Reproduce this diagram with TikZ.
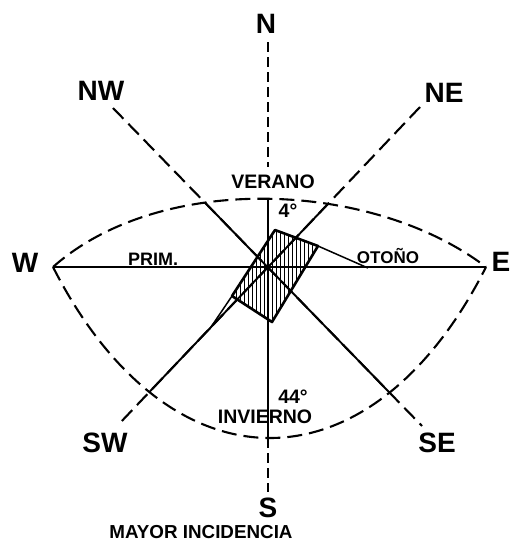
\documentclass[tikz,border=0pt]{standalone}
\usepackage{fontspec}
\setmainfont{Liberation Sans}

\begin{document}
\begin{tikzpicture}[x=1pt, y=-1pt, line width=1.9pt,
    rumbo/.style={font=\bfseries\fontsize{28}{30}\selectfont, inner sep=0pt, anchor=base},
    rotulo/.style={font=\bfseries\fontsize{19.5}{22}\selectfont, inner sep=0pt, anchor=base},
    trazo/.style={dash pattern=on 15pt off 7pt, line width=2.1pt},
    trazocorto/.style={dash pattern=on 10pt off 5pt, line width=2.1pt}]
  \useasboundingbox (0,0) rectangle (516,541);
  % ejes
  \coordinate (ctr) at (268,267);
  \coordinate (w) at (53,267);
  \coordinate (e) at (486,267);
  \coordinate (n) at (268,42);
  \coordinate (vtop) at (268,167);
  \coordinate (bot) at (268,438);
  \coordinate (s) at (268,492);
  \coordinate (nw) at (113,108);
  \coordinate (se) at (422,426);
  \coordinate (ne) at (420,107);
  \coordinate (sw) at (119,424);
  % rumbos
  \node[rumbo] (N) at (266,33) {N};
  \node[rumbo] (NW) at (101,100) {NW};
  \node[rumbo] (NE) at (444,102) {NE};
  \node[rumbo] (W) at (25,272) {W};
  \node[rumbo] (E) at (501,271) {E};
  \node[rumbo] (SW) at (105,452) {SW};
  \node[rumbo] (SE) at (437,452) {SE};
  \node[rumbo] (S) at (268,517) {S};
  % estaciones
  \node[rotulo] (verano) at (273,188) {VERANO};
  \node[rotulo] (g4) at (288,217) {4°};
  \node[rotulo, font=\bfseries\fontsize{18}{20}\selectfont] (prim) at (153,265) {PRIM.};
  \node[rotulo, font=\bfseries\fontsize{17}{19}\selectfont] (otono) at (388,263) {OTOÑO};
  \node[rotulo] (g44) at (293,403) {44°};
  \node[rotulo] (invierno) at (265,423) {INVIERNO};
  \node[rotulo, font=\bfseries\fontsize{18.8}{21}\selectfont] (mayor) at (201,538) {MAYOR INCIDENCIA};
  % contorno
  \draw[trazo] (w) .. controls (160,172) and (372,180) .. (e);
  \draw[trazo] (w) .. controls (169,495) and (371,495) .. (e);
  % lineas
  \draw (w) -- (e);
  \draw[trazocorto] (n) -- (vtop);
  \draw[trazocorto] (bot) -- (s);
  \draw[trazo] (nw) -- (se);
  \draw[trazo] (ne) -- (sw);
  \begin{scope}
    \clip (w) .. controls (160,172) and (372,180) .. (e)
      .. controls (371,495) and (169,495) .. (w) -- cycle;
    \draw (nw) -- (se);
    \draw (ne) -- (sw);
    \draw (n) -- (s);
  \end{scope}
  % superficie rayada
  \coordinate (vt) at (275,230);
  \coordinate (vr) at (318,246);
  \coordinate (vb) at (272,322);
  \coordinate (vl) at (232,296);
  \coordinate (tipE) at (368,268);
  \coordinate (tipW) at (209,330);
  \begin{scope}
    \clip (vt) -- (vr) -- (vb) -- (vl) -- cycle;
    \foreach \x in {232,236,...,320}
      \draw[line width=1pt] (\x,225) -- (\x,325);
  \end{scope}
  \draw[line width=2.6pt, line join=round] (vt) -- (vr) -- (vb) -- (vl) -- cycle;
  \draw[line width=1.5pt] (vr) -- (tipE);
  \draw[line width=1.5pt] (vl) -- (tipW);
\end{tikzpicture}
\end{document}
